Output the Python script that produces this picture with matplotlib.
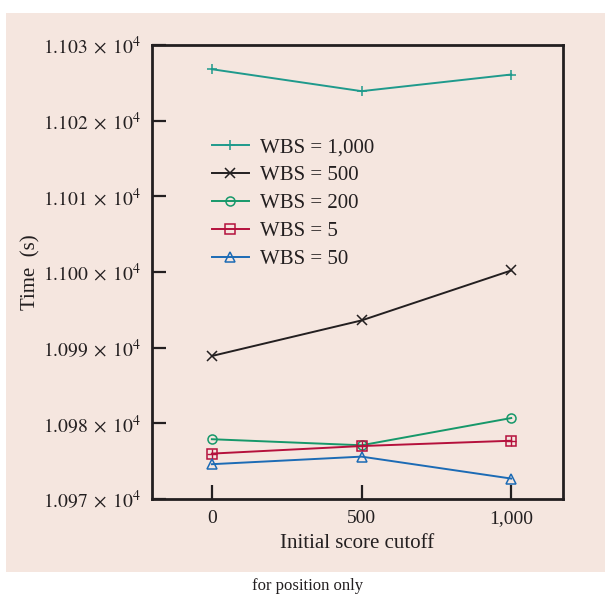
import matplotlib
matplotlib.use("Agg")
import matplotlib.pyplot as plt
from matplotlib.patches import Rectangle

plt.rcParams["font.family"] = ["Liberation Serif", "DejaVu Serif"]
plt.rcParams["mathtext.fontset"] = "stix"

cutoffs = [0, 500, 1000]
x_tick_labels = ["0", "500", "1,000"]
y_ticks = [10970, 10980, 10990, 11000, 11010, 11020, 11030]

wbs_1000 = [11026.8, 11023.9, 11026.1]
wbs_500 = [10988.9, 10993.6, 11000.2]
wbs_200 = [10977.9, 10977.1, 10980.7]
wbs_5 = [10976.0, 10977.0, 10977.7]
wbs_50 = [10974.6, 10975.6, 10972.7]

series = [
    ("WBS = 1,000", wbs_1000, "#1f9a8c", "+", "none"),
    ("WBS = 500", wbs_500, "#231f20", "x", "none"),
    ("WBS = 200", wbs_200, "#16986a", "o", "none"),
    ("WBS = 5", wbs_5, "#b5103c", "s", "none"),
    ("WBS = 50", wbs_50, "#1c6bb5", "^", "none"),
]

W, H = 605, 595
fig = plt.figure(figsize=(W / 100, H / 100), dpi=100)
fig.patch.set_facecolor("white")
bg = "#f5e6df"
fig.patches.append(Rectangle((6 / W, 1 - 572 / H), (W - 6) / W, (572 - 13) / H,
                             transform=fig.transFigure, facecolor=bg,
                             edgecolor="none", zorder=-10))

ax = fig.add_axes([152 / W, 1 - 499 / H, (563 - 152) / W, (499 - 45) / H])
ax.set_facecolor(bg)

for label, vals, color, marker, fc in series:
    ms = 7 if marker in "+x" else 6.5
    ax.plot(cutoffs, vals, color=color, lw=1.4, marker=marker,
            markersize=ms, markerfacecolor=fc, markeredgecolor=color,
            markeredgewidth=1.1, label=label)
    if marker == "s":
        # grid-square marker: overlay a plus inside the square
        ax.plot(cutoffs, vals, linestyle="none", marker="+", markersize=6.5,
                color=color, markeredgewidth=1.0)

ax.set_xlim(-200, 1173)
ax.set_ylim(10970, 11030)
ax.set_xticks(cutoffs)
ax.set_xticklabels(x_tick_labels)
ax.set_yticks(y_ticks)
ax.set_yticklabels([f"${v / 1e4:.3f}\\;\\times\\;10^{{4}}$" for v in y_ticks])

for s in ax.spines.values():
    s.set_linewidth(2.0)
    s.set_color("#231f20")
ax.tick_params(axis="both", direction="in", length=10, width=1.6,
               labelsize=14, colors="#231f20", pad=8)
ax.tick_params(axis="x", pad=8)

ax.set_xlabel("Initial score cutoff", fontsize=15, color="#231f20", labelpad=5)
ax.set_ylabel("Time  (s)", fontsize=15, color="#231f20")
ax.yaxis.set_label_coords(-0.272, 0.5)

leg = ax.legend(loc="upper left", bbox_to_anchor=(0.125, 0.814), frameon=False,
                fontsize=15, handlelength=1.8, handletextpad=0.5,
                labelspacing=0.4, borderaxespad=0)
for t in leg.get_texts():
    t.set_color("#231f20")

fig.text(308 / W, 1 - 586 / H, "for position only", ha="center", va="center",
         fontsize=12, color="#231f20")

fig.savefig("out.png", dpi=100, facecolor=fig.get_facecolor())
